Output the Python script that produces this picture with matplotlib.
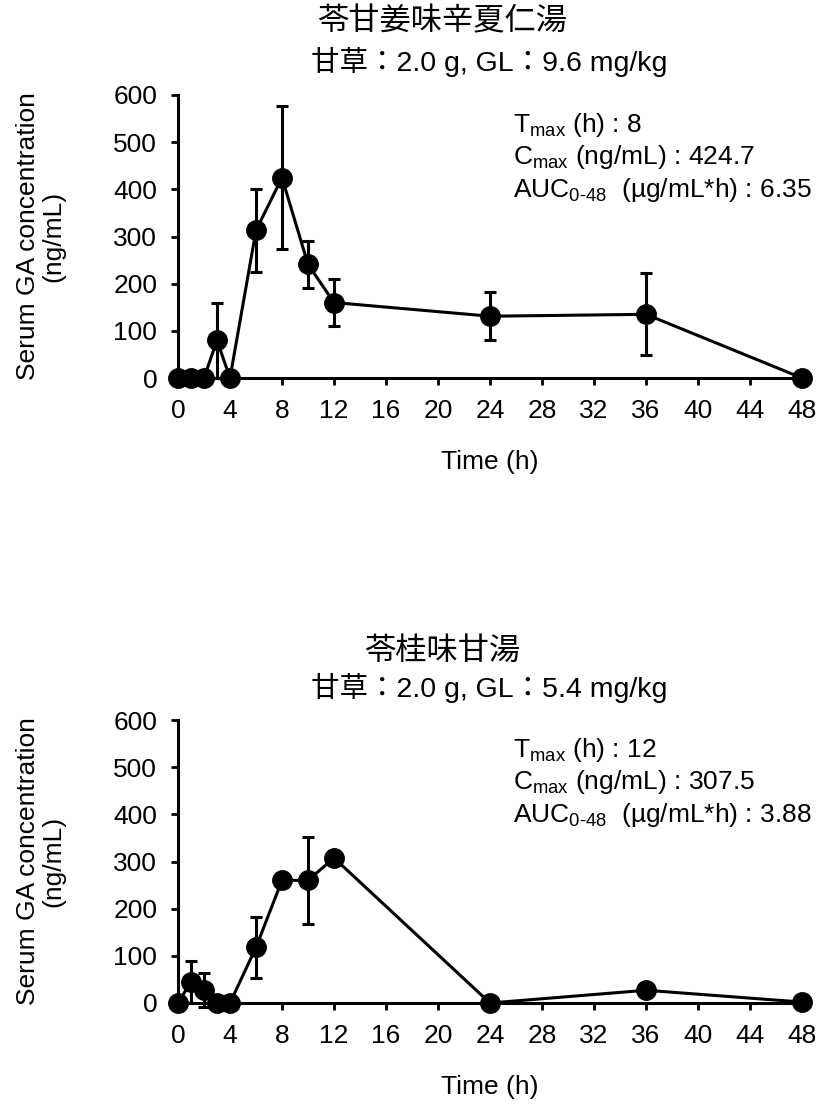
import matplotlib
matplotlib.use("Agg")
import matplotlib.pyplot as plt  # noqa: E402

plt.rcParams["font.family"] = ["Liberation Sans", "Noto Sans CJK JP", "DejaVu Sans"]
plt.rcParams["mathtext.fontset"] = "custom"
plt.rcParams["mathtext.rm"] = "Liberation Sans"
plt.rcParams["mathtext.it"] = "Liberation Sans"

# Sampling times (h)
times = [0, 1, 2, 3, 4, 6, 8, 10, 12, 24, 36, 48]

# Panel 1: 苓甘姜味辛夏仁湯
conc_a = [0, 0, 0, 80, 0, 313, 424.7, 241, 160, 131, 135, 0]
sd_a = [0, 0, 0, 80, 0, 88, 151, 50, 49, 51, 87, 0]

# Panel 2: 苓桂味甘湯
conc_b = [0, 45, 27, 0, 0, 118, 260, 260, 307.5, 0, 27, 2]
sd_b = [0, 44, 36, 0, 0, 65, 0, 92, 0, 0, 0, 0]

titles = ["苓甘姜味辛夏仁湯", "苓桂味甘湯"]
subtitles = ["甘草：2.0 g, GL：9.6 mg/kg", "甘草：2.0 g, GL：5.4 mg/kg"]
stats = [
    ["8", "424.7", "6.35"],
    ["12", "307.5", "3.88"],
]

W, H = 829, 1104
dpi = 100
fig = plt.figure(figsize=(W / dpi, H / dpi), dpi=dpi)


def fx(px):
    return px / W


def fy(py):
    return 1 - py / H


panels = [
    (conc_a, sd_a, 95, 378, 22, 62),
    (conc_b, sd_b, 720, 1003, 652, 688),
]

fs = 19

for i, (conc, sd, top, bot, ty, sy) in enumerate(panels):
    ax = fig.add_axes([fx(178), fy(bot), fx(802) - fx(178), fy(top) - fy(bot)])
    ax.errorbar(times, conc, yerr=sd, color="black", lw=2.2, marker="o",
                markersize=14, elinewidth=2.2, capsize=4, capthick=2.2,
                clip_on=False, zorder=3)
    ax.set_xlim(0, 48)
    ax.set_ylim(0, 600)
    ax.set_xticks(range(0, 49, 4))
    ax.set_yticks(range(0, 601, 100))
    for side in ["top", "right"]:
        ax.spines[side].set_visible(False)
    for side in ["left", "bottom"]:
        ax.spines[side].set_linewidth(2.2)
    ax.tick_params(direction="out", length=5, width=2, labelsize=fs)
    ax.tick_params(axis="y", pad=10)
    ax.tick_params(axis="x", pad=10)
    ax.set_xlabel("Time (h)", fontsize=fs)
    ax.xaxis.set_label_coords(0.5, -0.297)
    ax.xaxis.label.set_va("center")
    ax.set_ylabel("Serum GA concentration\n(ng/mL)", fontsize=fs, linespacing=1.05)
    ax.yaxis.set_label_coords(-0.22, 0.5)
    ax.yaxis.label.set_va("center")

    fig.text(fx(442), fy(ty), titles[i], fontsize=22.5, ha="center", va="center")
    fig.text(fx(489), fy(sy), subtitles[i], fontsize=20.5, ha="center", va="center")

    tmax, cmax, auc = stats[i]
    ax.text(0.537, 0.894, r"T$_{\mathrm{max}}$ (h) : " + tmax,
            transform=ax.transAxes, fontsize=fs, va="center")
    ax.text(0.537, 0.781, r"C$_{\mathrm{max}}$ (ng/mL) : " + cmax,
            transform=ax.transAxes, fontsize=fs, va="center")
    ax.text(0.537, 0.664, r"AUC$_{\mathrm{0\text{-}48}}$  (µg/mL*h) : " + auc,
            transform=ax.transAxes, fontsize=fs, va="center")

fig.savefig("out.png", dpi=dpi)
plt.close(fig)
